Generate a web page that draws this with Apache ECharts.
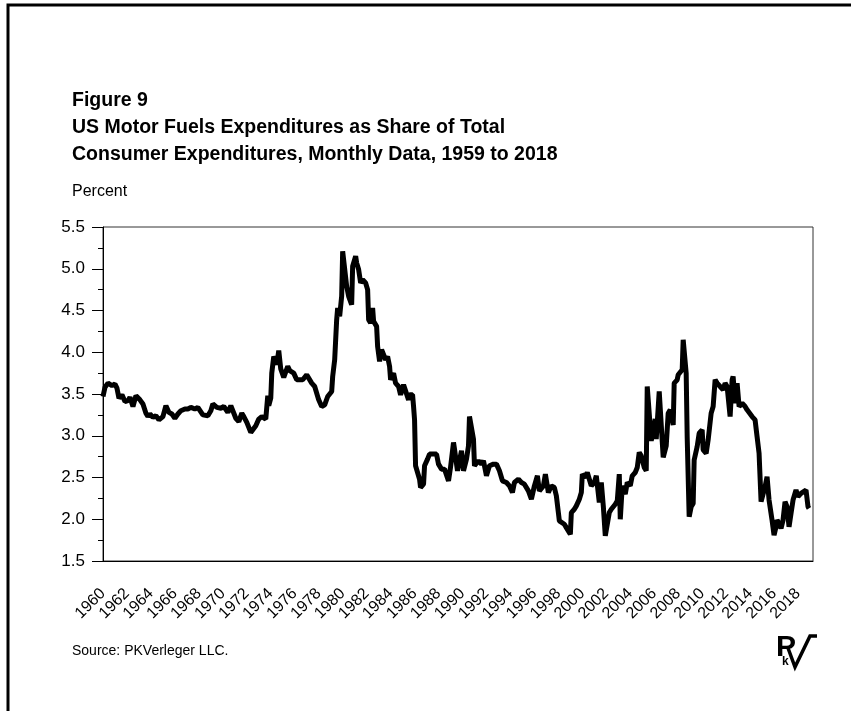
<!DOCTYPE html>
<html><head><meta charset="utf-8">
<script src="https://cdn.jsdelivr.net/npm/echarts@6/dist/echarts.min.js"></script>
<style>html,body{margin:0;padding:0;background:#fff}#c{width:851px;height:711px}</style>
</head><body><div id="c"></div>
<script>
const titleText = 'Figure 9\nUS Motor Fuels Expenditures as Share of Total\nConsumer Expenditures, Monthly Data, 1959 to 2018';
const unitLabel = 'Percent';
const sourceText = 'Source: PKVerleger LLC.';
const axisStartYear = 1960, axisEndYear = 2019, axisEndMonth = 4;
const yMin = 1.5, yMax = 5.5, yStep = 0.5;

const months = [
'1960-01','1960-03','1960-06','1960-08','1960-10','1961-01','1961-03','1961-05','1961-08','1961-11',
'1962-02','1962-04','1962-07','1962-10','1962-11','1963-02','1963-05','1963-08','1963-10','1963-12',
'1964-03','1964-06','1964-09','1965-01','1965-04','1965-07','1965-10','1966-01','1966-04','1966-07',
'1966-11','1967-02','1967-05','1967-09','1967-12','1968-02','1968-05','1968-10','1969-01','1969-03',
'1969-07','1969-11','1970-02','1970-06','1970-09','1970-11','1971-02','1971-05','1971-08','1971-10',
'1972-01','1972-05','1972-10','1973-01','1973-04','1973-08','1973-09','1973-10','1973-11','1974-01',
'1974-02','1974-04','1974-05','1974-07','1974-09','1974-11','1975-02','1975-06','1975-08','1975-12',
'1976-03','1976-05','1976-09','1977-01','1977-03','1977-06','1977-09','1977-11','1978-01','1978-04',
'1978-07','1978-10','1979-02','1979-03','1979-05','1979-07','1979-08','1979-10','1979-12','1980-01',
'1980-03','1980-05','1980-07','1980-10','1980-11','1981-02','1981-03','1981-05','1981-07','1981-09',
'1981-12','1982-02','1982-03','1982-05','1982-07','1982-08','1982-11','1982-12','1983-02','1983-04',
'1983-06','1983-08','1983-10','1983-12','1984-01','1984-04','1984-06','1984-09','1984-11','1985-02',
'1985-04','1985-07','1985-08','1985-11','1985-12','1986-01','1986-02','1986-04','1986-06','1986-07',
'1986-10','1986-11','1987-02','1987-04','1987-07','1987-09','1987-11','1988-01','1988-04','1988-07',
'1988-11','1989-01','1989-04','1989-05','1989-08','1989-10','1989-12','1990-02','1990-05','1990-07',
'1990-08','1990-10','1990-12','1991-01','1991-05','1991-08','1991-10','1992-01','1992-04','1992-08',
'1992-11','1993-02','1993-05','1993-09','1993-12','1994-03','1994-05','1994-09','1994-12','1995-03',
'1995-07','1995-10','1996-01','1996-04','1996-06','1996-10','1996-12','1997-03','1997-06','1997-09',
'1997-11','1998-01','1998-02','1998-04','1998-07','1998-09','1999-01','1999-02','1999-05','1999-07',
'1999-10','1999-12','2000-01','2000-04','2000-06','2000-08','2000-10','2001-01','2001-03','2001-04',
'2001-06','2001-08','2001-10','2001-12','2002-02','2002-04','2002-06','2002-10','2002-12','2003-02',
'2003-03','2003-05','2003-08','2003-10','2004-01','2004-03','2004-06','2004-08','2004-10','2004-12',
'2005-03','2005-05','2005-06','2005-08','2005-10','2006-02','2006-03','2006-06','2006-07','2006-10',
'2007-01','2007-03','2007-05','2007-08','2007-09','2007-12','2008-01','2008-03','2008-05','2008-06',
'2008-07','2008-09','2008-10','2008-12','2009-02','2009-04','2009-05','2009-08','2009-10','2010-01',
'2010-02','2010-05','2010-07','2010-10','2010-12','2011-02','2011-04','2011-07','2011-10','2011-12',
'2012-02','2012-05','2012-07','2012-08','2012-10','2012-12','2013-02','2013-05','2013-08','2013-10',
'2013-12','2014-03','2014-06','2014-08','2014-10','2014-12','2015-02','2015-04','2015-06','2015-08',
'2015-11','2016-01','2016-03','2016-04','2016-06','2016-08','2016-10','2016-12','2017-02','2017-04',
'2017-06','2017-08','2017-09','2017-11','2018-01','2018-04','2018-06','2018-09','2018-11','2018-12'
];
const shares = [
3.47,3.58,3.63,3.65,3.60,3.62,3.57,3.45,3.49,3.41,
3.42,3.46,3.35,3.48,3.50,3.43,3.38,3.27,3.23,3.26,
3.22,3.24,3.19,3.23,3.36,3.28,3.26,3.21,3.26,3.30,
3.32,3.32,3.34,3.32,3.34,3.36,3.25,3.24,3.30,3.38,
3.34,3.33,3.35,3.28,3.36,3.35,3.21,3.17,3.27,3.23,
3.16,3.04,3.12,3.20,3.23,3.20,3.22,3.48,3.36,3.45,
3.75,3.95,3.97,3.85,4.02,3.80,3.70,3.83,3.78,3.75,
3.67,3.66,3.67,3.73,3.71,3.63,3.59,3.57,3.43,3.35,
3.37,3.47,3.53,3.71,3.91,4.39,4.53,4.43,4.67,5.21,
5.23,4.79,4.67,4.57,5.03,5.15,5.07,4.99,4.83,4.87,
4.83,4.75,4.39,4.35,4.53,4.37,4.31,4.07,3.89,4.03,
4.01,3.91,3.95,3.83,3.67,3.75,3.63,3.59,3.49,3.61,
3.61,3.43,3.49,3.49,3.35,3.19,2.64,2.62,2.48,2.38,
2.42,2.64,2.72,2.78,2.78,2.76,2.78,2.66,2.60,2.60,
2.46,2.62,2.92,2.84,2.58,2.58,2.82,2.58,2.72,2.88,
3.23,3.25,2.96,2.64,2.70,2.66,2.70,2.52,2.64,2.66,
2.66,2.58,2.46,2.44,2.40,2.32,2.44,2.48,2.44,2.42,
2.34,2.24,2.40,2.52,2.34,2.40,2.54,2.32,2.40,2.38,
2.28,2.08,1.98,1.96,1.94,1.90,1.82,2.08,2.12,2.16,
2.24,2.32,2.54,2.50,2.56,2.48,2.40,2.44,2.52,2.52,
2.20,2.44,2.16,1.80,1.82,2.08,2.12,2.18,2.22,2.54,
2.00,2.40,2.30,2.44,2.40,2.52,2.56,2.62,2.80,2.76,
2.62,2.58,3.59,3.59,2.94,3.20,2.96,3.53,3.51,2.74,
2.88,3.27,3.31,3.13,3.63,3.67,3.73,3.71,3.79,4.15,
4.13,3.75,2.99,2.03,2.15,2.19,2.71,2.87,3.03,3.07,
2.83,2.79,2.95,3.27,3.35,3.67,3.63,3.59,3.55,3.63,
3.59,3.23,3.67,3.71,3.39,3.63,3.35,3.39,3.35,3.31,
3.33,3.23,3.19,2.99,2.79,2.21,2.19,2.39,2.51,2.23,
1.99,1.81,1.91,1.99,1.95,1.89,1.99,2.21,2.15,1.91,
2.07,2.23,2.25,2.35,2.27,2.31,2.31,2.35,2.15,2.13
];

// monthly category axis
const categories = [];
for (let y = axisStartYear; y <= axisEndYear; y++) {
  for (let m = 1; m <= 12; m++) {
    if (y === axisEndYear && m > axisEndMonth) break;
    categories.push(y + '-' + (m < 10 ? '0' + m : '' + m));
  }
}
const seriesData = months.map((m, i) => [m, shares[i]]);

const FONT = 'Liberation Sans, Arial, sans-serif';
const chart = echarts.init(document.getElementById('c'), null, {renderer: 'canvas'});
chart.setOption({
  animation: false,
  backgroundColor: '#fff',
  title: {
    text: titleText,
    left: 72, top: 87, padding: 0,
    textStyle: {fontFamily: FONT, fontWeight: 'bold', fontSize: 19.5, lineHeight: 27, color: '#000'}
  },
  grid: {left: 103, right: 38, top: 227, bottom: 150, show: true, borderColor: '#333', borderWidth: 1},
  xAxis: {
    type: 'category', data: categories, boundaryGap: false,
    axisLine: {show: true, lineStyle: {color: '#000', width: 1}},
    axisTick: {show: false},
    splitLine: {show: false},
    axisLabel: {
      rotate: 45, margin: 30, color: '#000', fontFamily: FONT, fontSize: 16,
      interval: (idx, val) => val.endsWith('-01') && (+val.slice(0, 4)) % 2 === 0,
      formatter: v => v.slice(0, 4)
    }
  },
  yAxis: {
    type: 'value', min: yMin, max: yMax, interval: yStep,
    axisLine: {show: true, lineStyle: {color: '#000', width: 1}},
    axisTick: {show: true, length: 11, lineStyle: {color: '#000'}},
    minorTick: {show: true, splitNumber: 2, length: 5, lineStyle: {color: '#000'}},
    splitLine: {show: false},
    axisLabel: {margin: 18, color: '#000', fontFamily: FONT, fontSize: 17, formatter: v => v.toFixed(1)}
  },
  series: [{
    type: 'line', data: seriesData, showSymbol: false, symbol: 'none',
    lineStyle: {color: '#000', width: 5}, clip: true
  }],
  graphic: [
    {type: 'polyline', shape: {points: [[8, 711], [8, 5], [851, 5]]}, style: {stroke: '#000', lineWidth: 3, fill: null}},
    {type: 'text', left: 72, top: 184, style: {text: unitLabel, font: '16px ' + FONT, fill: '#000'}},
    {type: 'text', left: 72, top: 644, style: {text: sourceText, font: '14px ' + FONT, fill: '#000'}},
    {type: 'text', left: 776, top: 633, style: {text: 'P', font: 'bold 30px ' + FONT, fill: '#000'}},
    {type: 'text', left: 782, top: 656, style: {text: 'k', font: 'bold 12px ' + FONT, fill: '#000'}},
    {type: 'polyline', shape: {points: [[788, 648], [795, 667], [810, 636], [817, 636]]}, style: {stroke: '#000', lineWidth: 3.5, fill: null}}
  ]
});
</script></body></html>
